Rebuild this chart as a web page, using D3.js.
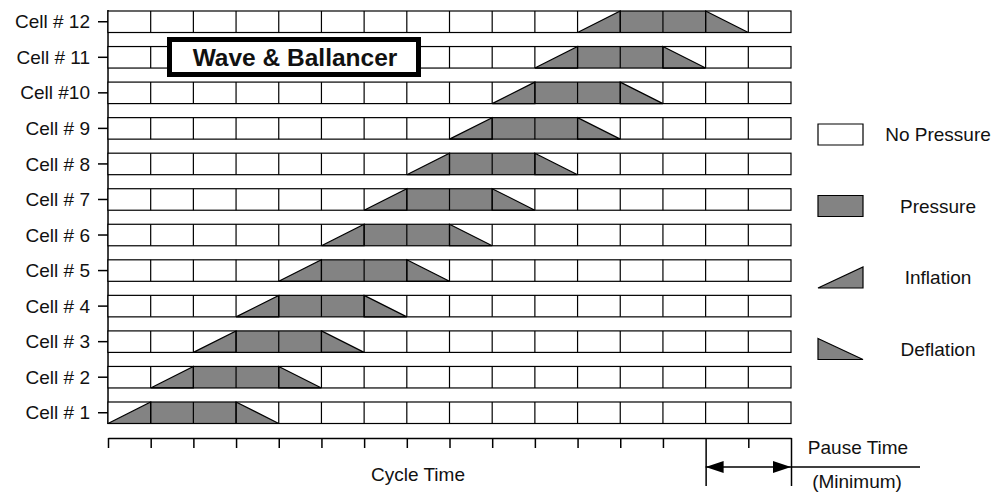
<!DOCTYPE html>
<html>
<head>
<meta charset="utf-8">
<script src="https://cdn.jsdelivr.net/npm/d3@7"></script>
<style>
  body { margin: 0; background: #fff; }
  svg text { font-family: "Liberation Sans", Arial, sans-serif; fill: #111; }
</style>
</head>
<body>
<svg width="1001" height="493"></svg>
<script>
// cells from top to bottom
let cellLabels = ["Cell # 12", "Cell # 11", "Cell #10", "Cell # 9", "Cell # 8", "Cell # 7",
  "Cell # 6", "Cell # 5", "Cell # 4", "Cell # 3", "Cell # 2", "Cell # 1"];
// column where inflation starts for each cell (same order)
let inflationCol = [11, 10, 9, 8, 7, 6, 5, 4, 3, 2, 1, 0];
// columns of full pressure after inflation, then one column of deflation
let pressureCols = [2, 2, 2, 2, 2, 2, 2, 2, 2, 2, 2, 2];
let nCols = 16;
let pauseStart = 14;
let legendItems = ["No Pressure", "Pressure", "Inflation", "Deflation"];

let gray = "#838383";
let svg = d3.select("svg");

let x = d3.scaleLinear().domain([0, nCols]).range([108, 791]);
let y = d3.scaleBand().domain(cellLabels).range([11, 423.5]).paddingInner(0.395);

// left axis
let yAxis = d3.axisLeft(y).tickSize(10).tickSizeOuter(0).tickPadding(8);
let gy = svg.append("g").attr("transform", "translate(108,0)").call(yAxis);
gy.select(".domain").attr("d", "M0,10V424").attr("stroke", "#000").attr("stroke-width", 1.5);
gy.selectAll(".tick line").attr("stroke", "#000").attr("stroke-width", 1.5);
gy.selectAll(".tick text").style("font-size", "19px").attr("dy", "0.35em")
  .style("font-family", "Liberation Sans, Arial, sans-serif").attr("fill", "#111");

// rows
let rows = svg.selectAll("g.row")
  .data(cellLabels.map((c, i) => ({ label: c, inf: inflationCol[i], p: pressureCols[i] })))
  .enter().append("g").attr("class", "row")
  .attr("transform", d => "translate(0," + y(d.label) + ")");

let h = y.bandwidth();

rows.append("rect")
  .attr("x", x(0)).attr("y", 0)
  .attr("width", x(nCols) - x(0)).attr("height", h)
  .attr("fill", "#fff");

// pressure cells
rows.append("rect")
  .attr("x", d => x(d.inf + 1)).attr("y", 0)
  .attr("width", d => x(d.inf + 1 + d.p) - x(d.inf + 1)).attr("height", h)
  .attr("fill", gray);

// inflation triangle
rows.append("path")
  .attr("d", d => `M${x(d.inf)},${h}L${x(d.inf + 1)},0L${x(d.inf + 1)},${h}Z`)
  .attr("fill", gray).attr("stroke", "#000").attr("stroke-width", 1.2);

// deflation triangle
rows.append("path")
  .attr("d", d => {
    let a = x(d.inf + 1 + d.p), b = x(d.inf + 2 + d.p);
    return `M${a},0L${b},${h}L${a},${h}Z`;
  })
  .attr("fill", gray).attr("stroke", "#000").attr("stroke-width", 1.2);

// column dividers
rows.selectAll("line.div")
  .data(d3.range(1, nCols))
  .enter().append("line")
  .attr("x1", c => x(c)).attr("x2", c => x(c))
  .attr("y1", 0).attr("y2", h)
  .attr("stroke", "#000").attr("stroke-width", 1.2);

rows.append("rect")
  .attr("x", x(0)).attr("y", 0)
  .attr("width", x(nCols) - x(0)).attr("height", h)
  .attr("fill", "none").attr("stroke", "#000").attr("stroke-width", 1.2);

// title box
svg.append("rect")
  .attr("x", 169.5).attr("y", 39.5).attr("width", 249).attr("height", 35)
  .attr("fill", "#fff").attr("stroke", "#000").attr("stroke-width", 5);
svg.append("text")
  .attr("x", 295).attr("y", 66).attr("text-anchor", "middle")
  .style("font-size", "24.5px").style("font-weight", "bold")
  .text("Wave & Ballancer");

// bottom time axis
let xAxis = d3.axisBottom(x).ticks(nCols).tickValues(d3.range(0, nCols + 1))
  .tickSize(10).tickSizeOuter(0).tickFormat("");
let gx = svg.append("g").attr("transform", "translate(0,438)").call(xAxis);
gx.select(".domain").attr("stroke", "#000").attr("stroke-width", 1.5);
gx.selectAll(".tick line")
  .attr("stroke", "#000").attr("stroke-width", 1.5)
  .attr("y2", d => (d === pauseStart || d === nCols) ? 48 : 10);

svg.append("text")
  .attr("x", 418).attr("y", 481).attr("text-anchor", "middle")
  .style("font-size", "19px").text("Cycle Time");

// pause time arrow
let ay = 467;
let pa = x(pauseStart), pb = x(nCols);
svg.append("line")
  .attr("x1", pa).attr("x2", 920).attr("y1", ay).attr("y2", ay)
  .attr("stroke", "#000").attr("stroke-width", 1.5);
svg.append("path")
  .attr("d", `M${pa},${ay}L${pa + 18},${ay - 6}L${pa + 18},${ay + 6}Z`)
  .attr("fill", "#000");
svg.append("path")
  .attr("d", `M${pb},${ay}L${pb - 18},${ay - 6}L${pb - 18},${ay + 6}Z`)
  .attr("fill", "#000");
svg.append("text")
  .attr("x", 858).attr("y", 454).attr("text-anchor", "middle")
  .style("font-size", "19px").text("Pause Time");
svg.append("text")
  .attr("x", 857).attr("y", 488).attr("text-anchor", "middle")
  .style("font-size", "19px").text("(Minimum)");

// legend
let lx = 818, lw = 45, lh = 21;
let lg = svg.selectAll("g.legend")
  .data(legendItems)
  .enter().append("g").attr("class", "legend")
  .attr("transform", (d, i) => "translate(" + lx + "," + (124 + i * 71.5) + ")");

lg.append("path")
  .attr("d", (d, i) => {
    if (i < 2) return `M0,0H${lw}V${lh}H0Z`;
    if (i === 2) return `M0,${lh}L${lw},0V${lh}Z`;
    return `M0,0L${lw},${lh}H0Z`;
  })
  .attr("fill", (d, i) => i === 0 ? "#fff" : gray)
  .attr("stroke", "#000").attr("stroke-width", 1.2);

lg.append("text")
  .attr("x", 938 - lx).attr("y", lh / 2).attr("dy", "0.35em")
  .attr("text-anchor", "middle")
  .style("font-size", "19px")
  .text(d => d);
</script>
</body>
</html>
